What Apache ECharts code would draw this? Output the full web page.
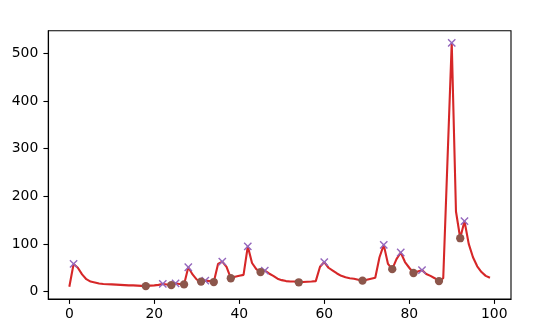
<!DOCTYPE html>
<html><head><meta charset="utf-8">
<script src="https://cdn.jsdelivr.net/npm/echarts@6/dist/echarts.min.js"></script>
<style>html,body{margin:0;padding:0;background:#fff}#c{width:539px;height:331px}</style>
</head><body><div id="c"></div>
<script>
const values = [10,58,50,36,26,21,19,17,16,15.5,
15,14.5,14,13.5,13,13,12.5,12,11.5,12.5,
13,14,16,15,13.5,17,16,15,51,36,
25,21,23,22,20,58,63,52,28,31,
33,35,95,60,47,41,44,38,33,27,
24,22,21,21,19.5,20,20.5,21,22,52,
62,50,44,38,33,30,28,27,25,23,
25,27,29,72,98,58,47,68,82,62,
50,39,42,45,37,33,28,22,28,275,
522,168,112,148,100,72,53,41,33,29];
const peaks = [1,22,25,28,32,36,42,46,60,74,78,83,90,93];
const valleys = [18,24,27,31,34,38,45,54,69,76,81,87,92];
const xTicks = [0,20,40,60,80,100];
const yTicks = [0,100,200,300,400,500];

const lineData = values.map((v,i)=>[i,v]);
const peakData = peaks.map(i=>[i,values[i]]);
const valleyData = valleys.map(i=>[i,values[i]]);
const n = values.length - 1;
const xmin = -0.05*n, xmax = n + 0.05*n;
const vmin = Math.min(...values), vmax = Math.max(...values);
const ymin = vmin - 0.05*(vmax-vmin), ymax = vmax + 0.05*(vmax-vmin);

const font = {fontFamily:'DejaVu Sans', fontSize:13.9, color:'#000'};
const chart = echarts.init(document.getElementById('c'));
chart.setOption({
  animation:false,
  grid:{left:48.3, top:30.7, width:462.7, height:268.3, show:true, borderColor:'#000', borderWidth:1.1, backgroundColor:'transparent'},
  xAxis:{type:'value', min:xmin, max:xmax,
    axisLine:{show:true, onZero:false, lineStyle:{color:'#000', width:1.1}},
    axisTick:{show:true, length:4.9, lineStyle:{color:'#000', width:1.1}, customValues:xTicks},
    axisLabel:Object.assign({margin:8, customValues:xTicks}, font),
    splitLine:{show:false}},
  yAxis:{type:'value', min:ymin, max:ymax,
    axisLine:{show:true, onZero:false, lineStyle:{color:'#000', width:1.1}},
    axisTick:{show:true, length:4.9, lineStyle:{color:'#000', width:1.1}, customValues:yTicks},
    axisLabel:Object.assign({margin:10, customValues:yTicks}, font),
    splitLine:{show:false}},
  series:[
    {type:'line', data:lineData, showSymbol:false, lineStyle:{color:'#d62728', width:2.1}, itemStyle:{color:'#d62728'}, z:2},
    {type:'scatter', data:peakData, symbol:'path://M0,1.2L1.2,0L10,8.8L8.8,10ZM8.8,0L10,1.2L1.2,10L0,8.8Z', symbolSize:8.3, itemStyle:{color:'#9467bd', opacity:1}, z:3},
    {type:'scatter', data:valleyData, symbol:'circle', symbolSize:8.3, itemStyle:{color:'#8c564b', opacity:1}, z:4}
  ]
});
</script></body></html>
